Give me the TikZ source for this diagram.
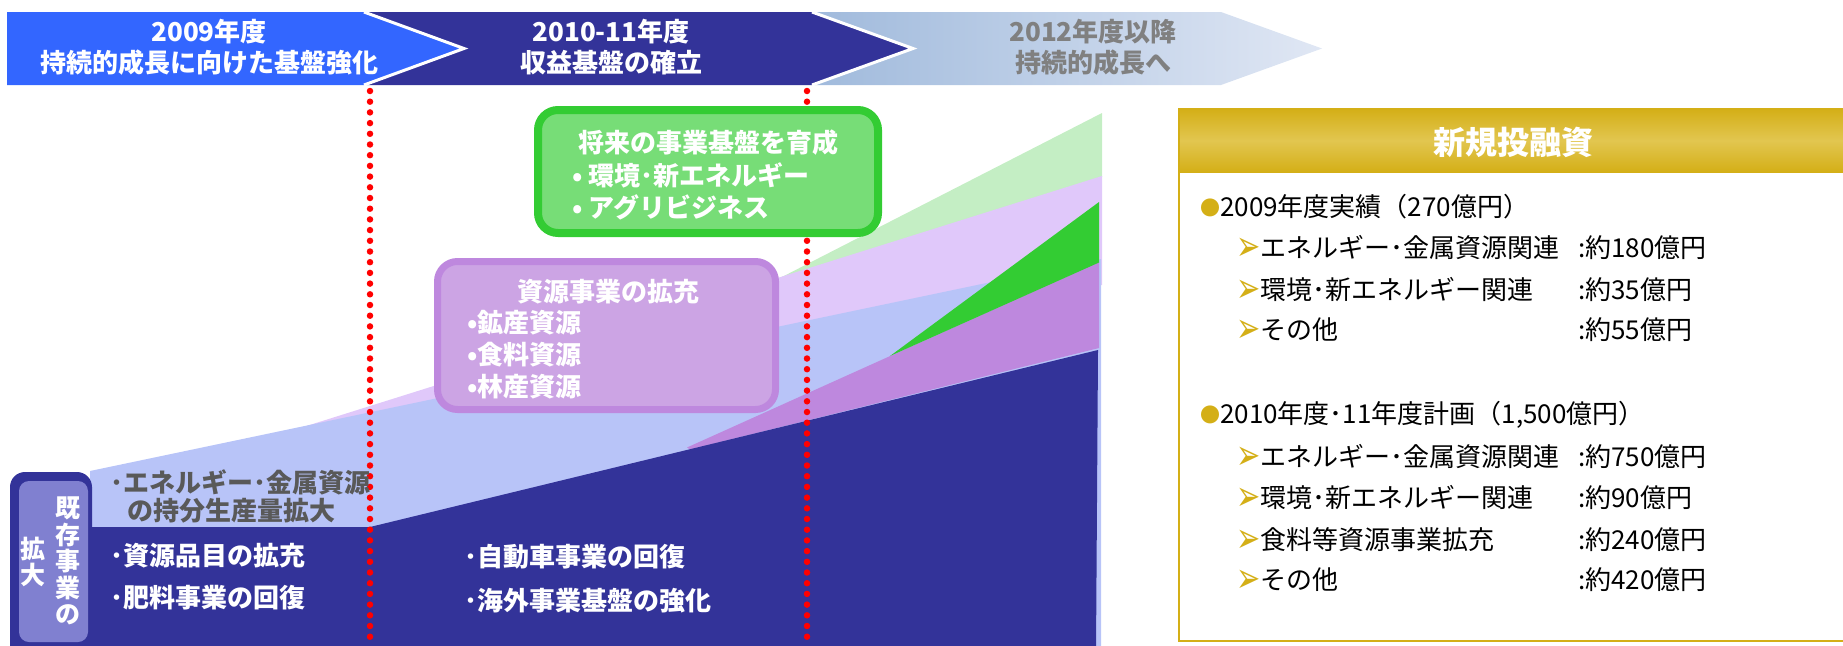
\documentclass[tikz,border=0pt]{standalone}
\usepackage{fontspec}
\setmainfont{Noto Sans CJK JP}
\newfontfamily\dingfont{DejaVu Sans}
\definecolor{navy}{RGB}{51,51,153}
\definecolor{bannerblue}{RGB}{51,102,255}
\definecolor{arrowL}{RGB}{160,186,220}
\definecolor{arrowR}{RGB}{224,231,244}
\definecolor{lgreen}{RGB}{196,238,196}
\definecolor{lav}{RGB}{224,200,250}
\definecolor{lblue}{RGB}{184,196,248}
\definecolor{purp}{RGB}{190,136,222}
\definecolor{grn}{RGB}{51,204,51}
\definecolor{boxgreen}{RGB}{119,221,119}
\definecolor{boxpurp}{RGB}{204,164,228}
\definecolor{gold}{RGB}{212,175,23}
\definecolor{goldlight}{RGB}{226,198,80}
\definecolor{peri}{RGB}{128,128,208}
\definecolor{txtgrey}{RGB}{89,89,89}
\definecolor{bangrey}{RGB}{128,128,128}
\newcommand{\garrow}{\textcolor{gold}{\raisebox{-3pt}{\scalebox{1}[1.45]{\dingfont\fontsize{29}{29}\selectfont ➢}}}}
\newcommand{\gdot}{\textcolor{gold}{\raisebox{1pt}{\fontsize{20}{20}\selectfont ●}}}
\begin{document}
\begin{tikzpicture}[x=1pt,y=-1pt,
  bt/.style={inner sep=0pt, font=\bfseries\fontsize{26}{30}\selectfont},
  wt/.style={bt, text=white},
  gt/.style={bt, text=txtgrey},
  rt/.style={inner sep=0pt, anchor=west, font=\fontsize{26}{30}\selectfont},
  vt/.style={inner sep=0pt, align=center, text=white, font=\bfseries\fontsize{25}{26.5}\selectfont},
  dotline/.style={red, line width=6.5pt, line cap=round, dash pattern=on 0pt off 10.7pt},
  sep/.style={white, line width=3pt},
]
\useasboundingbox (0,0) rectangle (1843,645);
% ---------- banner ----------
\fill[bannerblue] (7,12) -- (364,12) -- (464,48.5) -- (364,85) -- (7,85) -- cycle;
\fill[navy] (364,12) -- (812,12) -- (913,48.5) -- (812,85) -- (364,85) -- (464,48.5) -- cycle;
\shade[left color=arrowL, right color=arrowR] (812,12) -- (1221,12) -- (1322,48.5) -- (1221,85) -- (812,85) -- (913,48.5) -- cycle;
\draw[sep] (364,12) -- (464,48.5) -- (364,85);
\draw[sep] (812,12) -- (913,48.5) -- (812,85);
\node[wt] (b1a) at (209,32) {2009年度};
\node[wt] (b1b) at (209,63) {持続的成長に向けた基盤強化};
\node[wt] (b2a) at (611,32) {2010-11年度};
\node[wt] (b2b) at (611,63) {収益基盤の確立};
\node[bt, text=bangrey] (b3a) at (1093,32) {2012年度以降};
\node[bt, text=bangrey] (b3b) at (1093,63) {持続的成長へ};
% ---------- layered areas ----------
\fill[lgreen] (778,279) -- (1102,113) -- (1102,177) -- cycle;
\fill[lav] (300,428) -- (1102,176) -- (1102,285) -- cycle;
\fill[lblue] (90,471) -- (1101,259) -- (1101,650) -- (90,650) -- cycle;
\fill[purp] (687,447.5) -- (1099,262) -- (1099,348) -- (690,449.5) -- cycle;
\fill[grn] (890,356) -- (1099,202) -- (1099,262.5) -- cycle;
\fill[navy] (88,527) -- (370,527) -- (1098,350) -- (1096,650) -- (88,650) -- cycle;
% ---------- dotted period lines ----------
\coordinate (d1t) at (370,91);
\coordinate (d1b) at (370,645);
\coordinate (d2t) at (807,91);
\coordinate (d2b) at (807,645);
\draw[dotline] (d1t) -- (d1b);
\draw[dotline] (d2t) -- (d2b);
% ---------- green box ----------
\node[draw=grn, fill=boxgreen, line width=8pt, rounded corners=20pt,
      minimum width=340pt, minimum height=123pt] (gbox) at (708,171.5) {};
\node[wt] (g1) at (708,143) {将来の事業基盤を育成};
\node[wt, anchor=west] (g2) at (572,175) {• 環境･新エネルギー};
\node[wt, anchor=west] (g3) at (572,207) {• アグリビジネス};
% ---------- purple box ----------
\node[draw=purp, fill=boxpurp, line width=7pt, rounded corners=20pt,
      minimum width=338pt, minimum height=148pt] (pbox) at (606.5,335.5) {};
\node[wt] (p1) at (608,292) {資源事業の拡充};
\node[wt, anchor=west] (p2) at (467,323) {•鉱産資源};
\node[wt, anchor=west] (p3) at (467,355) {•食料資源};
\node[wt, anchor=west] (p4) at (467,387) {•林産資源};
% ---------- existing business box ----------
\node[fill=navy, rounded corners=15pt, minimum width=82pt, minimum height=190pt, inner sep=0pt] (kbox) at (51,567) {};
\node[fill=peri, rounded corners=10pt, minimum width=69pt, minimum height=161pt, inner sep=0pt] (kin) at (53.5,561.5) {};
\node[vt] (k1) at (68,561) {既\\存\\事\\業\\の};
\node[vt] (k2) at (33,562) {拡\\大};
% ---------- texts on areas ----------
\node[gt, anchor=west] (t1) at (110,482) {･エネルギー･金属資源};
\node[gt, anchor=west] (t2) at (127,511) {の持分生産量拡大};
\node[wt, anchor=west] (t3) at (110,556) {･資源品目の拡充};
\node[wt, anchor=west] (t4) at (110,598) {･肥料事業の回復};
\node[wt, anchor=west] (t5) at (464,557) {･自動車事業の回復};
\node[wt, anchor=west] (t6) at (464,601) {･海外事業基盤の強化};
% ---------- right panel ----------
\shade[top color=gold, bottom color=gold, middle color=goldlight] (1178,109) rectangle (1850,172);
\draw[gold, line width=2.5pt] (1179,109) rectangle (1850,641);
\node[wt, font=\bfseries\fontsize{32}{36}\selectfont] (head) at (1513,142) {新規投融資};
\node[rt] (r1) at (1200,207) {\gdot 2009年度実績（270億円）};
\node[rt] (r2) at (1236,248) {\garrow エネルギー･金属資源関連};
\node[rt] (r2v) at (1578,248) {:約180億円};
\node[rt] (r3) at (1236,290) {\garrow 環境･新エネルギー関連};
\node[rt] (r3v) at (1578,290) {:約35億円};
\node[rt] (r4) at (1236,330) {\garrow その他};
\node[rt] (r4v) at (1578,330) {:約55億円};
\node[rt] (r5) at (1200,415) {\gdot 2010年度･11年度計画（1,500億円）};
\node[rt] (r6) at (1236,457) {\garrow エネルギー･金属資源関連};
\node[rt] (r6v) at (1578,457) {:約750億円};
\node[rt] (r7) at (1236,498) {\garrow 環境･新エネルギー関連};
\node[rt] (r7v) at (1578,498) {:約90億円};
\node[rt] (r8) at (1236,540) {\garrow 食料等資源事業拡充};
\node[rt] (r8v) at (1578,540) {:約240億円};
\node[rt] (r9) at (1236,580) {\garrow その他};
\node[rt] (r9v) at (1578,580) {:約420億円};
\end{tikzpicture}
\end{document}
